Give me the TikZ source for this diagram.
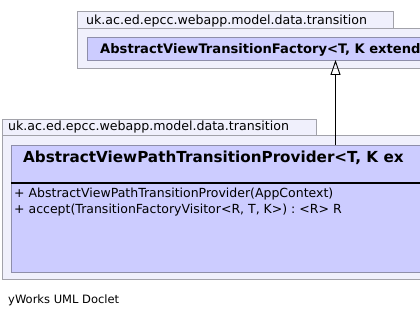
\documentclass[tikz,border=0pt]{standalone}
\usepackage{fontspec}
\setmainfont{DejaVu Sans}
\usepackage{xcolor}
\definecolor{pkgfill}{HTML}{F0F0FC}
\definecolor{pkgline}{HTML}{A2A2AA}
\definecolor{classfill}{HTML}{CCCCFF}
\definecolor{classline}{HTML}{8E8EAA}
\usetikzlibrary{arrows.meta,positioning}
\newcommand{\pkgfont}{\fontsize{12.6}{15}\selectfont}
\newcommand{\opfont}{\fontsize{12.5}{15}\selectfont}
\frenchspacing

\begin{document}
\begin{tikzpicture}[x=1pt, y=-1pt, >=Stealth,
		pkgbox/.style={draw=pkgline, fill=pkgfill, line width=0.9pt, inner sep=0pt, outer sep=0pt, anchor=north west},
		classbox/.style={draw=classline, fill=classfill, line width=0.9pt, inner sep=0pt, outer sep=0pt, anchor=north west},
		label/.style={anchor=base west, inner sep=0pt, font=\pkgfont},
		opline/.style={anchor=base west, inner sep=0pt, font=\opfont},
		realizes/.style={-{Triangle[open, length=15pt, width=10pt]}, line width=0.9pt}]
		\clip (0,0) rectangle (420,318);
		\fill[white] (0,0) rectangle (420,318);

		% factory package with its class
		\node[pkgbox, minimum width=316pt, minimum height=17pt] (factTab) at (77,11) {};
		\node[pkgbox, minimum width=360pt, minimum height=40pt] (factPkg) at (77,28) {};
		\node[label] (factName) at (86,24.5) {uk.ac.ed.epcc.webapp.model.data.transition};
		\node[classbox, minimum width=350pt, minimum height=23pt] (factory) at (87,37) {};
		\node[anchor=base west, inner sep=0pt, font=\fontsize{13.1}{15}\bfseries] (factTitle) at (100,54) {AbstractViewTransitionFactory<T, K extend};

		% provider package with its class
		\node[pkgbox, minimum width=314pt, minimum height=16pt] (provTab) at (2,119) {};
		\node[pkgbox, minimum width=430pt, minimum height=144pt] (provPkg) at (2,135) {};
		\node[label] (provName) at (8,131) {uk.ac.ed.epcc.webapp.model.data.transition};
		\node[classbox, minimum width=420pt, minimum height=127pt] (provider) at (11,145) {};
		\node[anchor=base west, inner sep=0pt, font=\fontsize{15.2}{18}\bfseries] (provTitle) at (23,162.5) {AbstractViewPathTransitionProvider<T, K ex};
		\coordinate (sepL) at (11,183.3);
		\draw[line width=2pt] (sepL) -- (sepL -| provider.east);
		\node[opline] (op1) at (14,197.5) {+ AbstractViewPathTransitionProvider(AppContext)};
		\node[opline] (op2) at (14,213.5) {+ accept(TransitionFactoryVisitor<R, T, K>) : <R> R};

		% generalization
		\coordinate (arrowX) at (335.5,0);
		\draw[realizes] (provider.north -| arrowX) -- (factory.south -| arrowX);

		\node[anchor=base west, inner sep=0pt, font=\fontsize{11.5}{14}\selectfont] (doclet) at (8,303) {yWorks UML Doclet};
	\end{tikzpicture}
\end{document}
